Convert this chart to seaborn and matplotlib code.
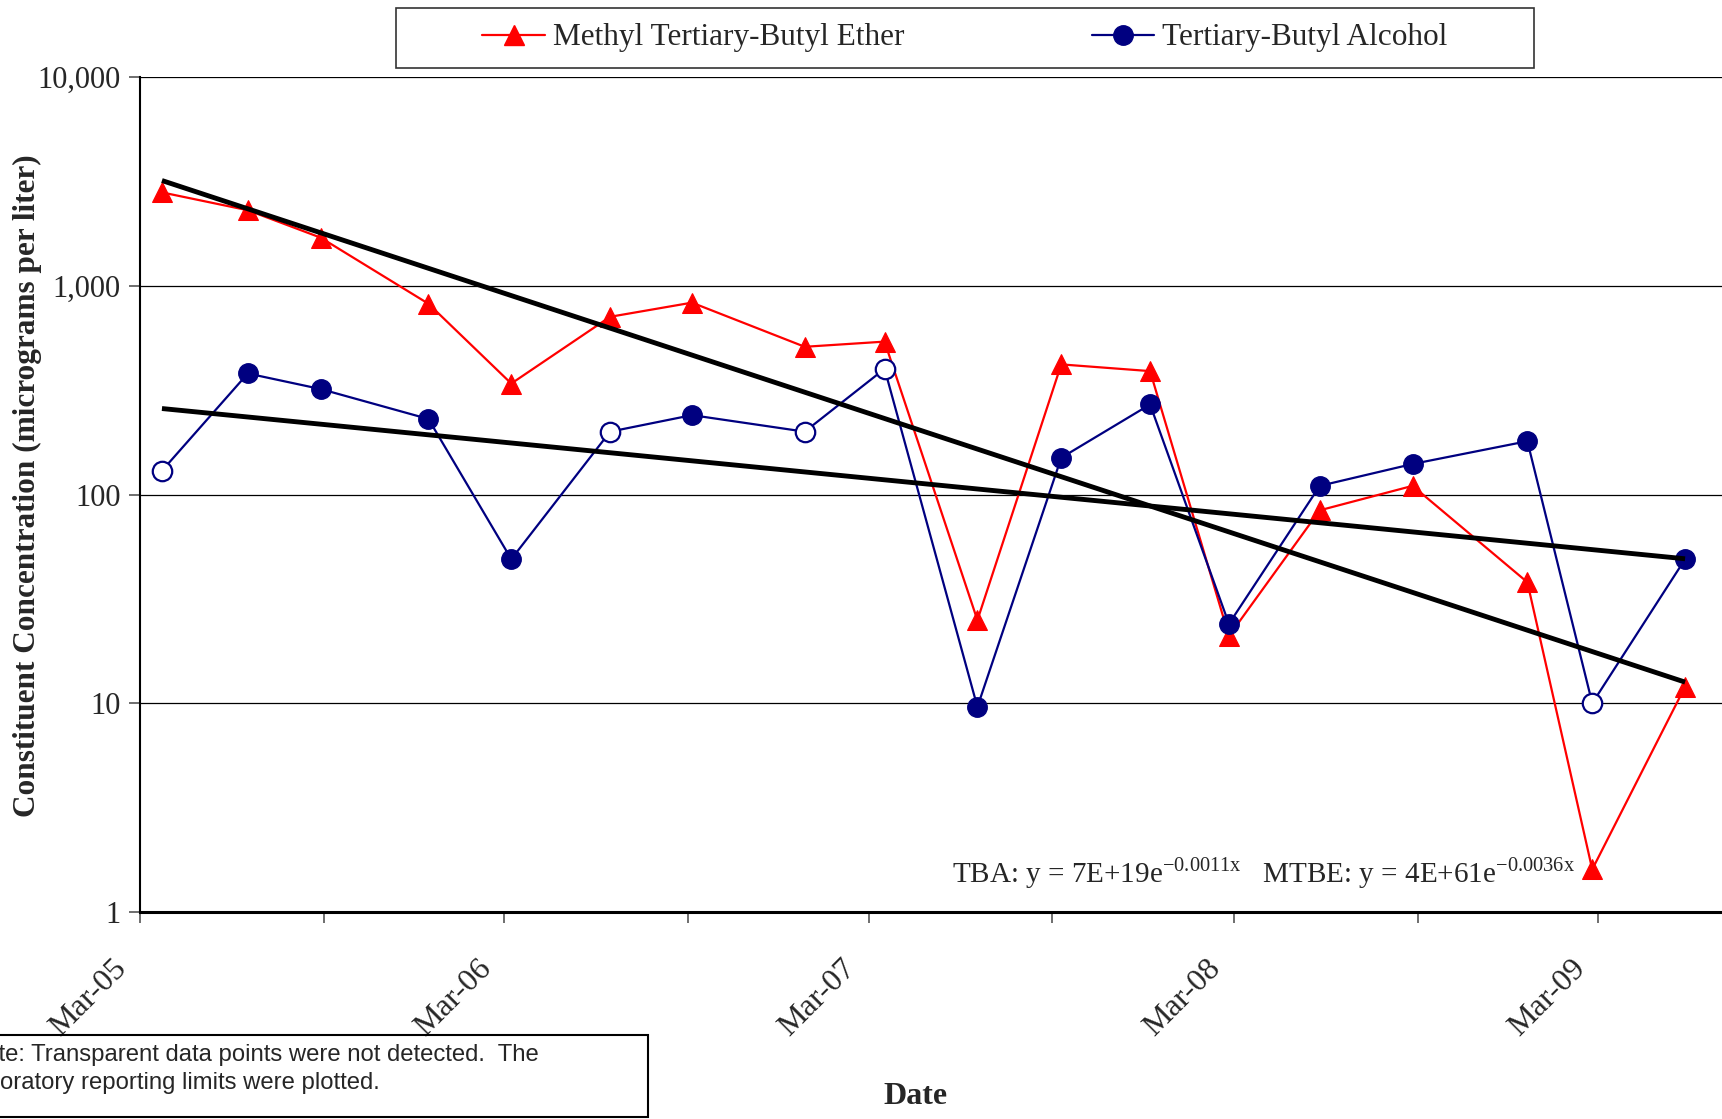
import numpy as np
import pandas as pd
import matplotlib
matplotlib.use("Agg")
import matplotlib.pyplot as plt
import matplotlib.dates as mdates
import matplotlib.transforms as mtransforms
from matplotlib.lines import Line2D
from matplotlib.patches import Rectangle
from matplotlib.ticker import FixedLocator, FuncFormatter, NullLocator
import seaborn as sns

# sample dates and concentrations (ug/L)
dates = pd.to_datetime([
    "2005-03-23", "2005-06-17", "2005-08-29", "2005-12-15", "2006-03-08",
    "2006-06-15", "2006-09-05", "2006-12-27", "2007-03-17", "2007-06-18",
    "2007-09-10", "2007-12-08", "2008-02-25", "2008-05-26", "2008-08-27",
    "2008-12-20", "2009-02-23", "2009-05-27",
])
mtbe = [2800, 2300, 1700, 820, 340, 710, 830, 510, 540, 25,
        420, 390, 21, 84, 110, 38, 1.6, 12]
tba = [130, 380, 320, 230, 49, 200, 240, 200, 400, 9.6,
       150, 270, 24, 110, 140, 180, 10, 49]
# non-detects (plotted at reporting limit, open symbols)
tba_nd = [True, False, False, False, False, True, False, True, True, False,
          False, False, False, False, False, False, True, False]

y_ticks = [1, 10, 100, 1000, 10000]
eq_text = (r"TBA: y = 7E+19e$^{\mathregular{-0.0011x}}$   "
           r"MTBE: y = 4E+61e$^{\mathregular{-0.0036x}}$")
note_lines = ["Note: Transparent data points were not detected.  The",
              "laboratory reporting limits were plotted."]

RED = "#FF0000"
NAVY = "#000080"
W, H = 1722, 1119

sns.set_style("white")
plt.rcParams["font.family"] = ["Liberation Serif", "DejaVu Serif"]
plt.rcParams["mathtext.fontset"] = "custom"
plt.rcParams["mathtext.rm"] = "Liberation Serif"

df = pd.DataFrame({"date": dates, "MTBE": mtbe, "TBA": tba, "nd": tba_nd})

fig = plt.figure(figsize=(W / 100, H / 100), dpi=100)
ax = fig.add_axes([140 / W, 1 - 912 / H, (W - 140) / W, (912 - 77) / H])
ax.set_yscale("log")

# data series
sns.lineplot(data=df, x="date", y="MTBE", ax=ax, color=RED, lw=1.6,
             marker="^", markersize=15, markeredgecolor=RED, markerfacecolor=RED,
             zorder=3)
sns.lineplot(data=df, x="date", y="TBA", ax=ax, color=NAVY, lw=1.6, zorder=4)
det = df[~df["nd"]]
nd = df[df["nd"]]
ax.plot(det["date"], det["TBA"], ls="none", marker="o", ms=14,
        mfc=NAVY, mec=NAVY, zorder=5)
ax.plot(nd["date"], nd["TBA"], ls="none", marker="o", ms=14,
        mfc="white", mec=NAVY, mew=1.6, zorder=5)

# exponential trend lines (log-linear fit)
xnum = mdates.date2num(df["date"])
for col in ["TBA", "MTBE"]:
    b, a = np.polyfit(xnum, np.log(df[col]), 1)
    xe = np.array([xnum[0], xnum[-1]])
    ax.plot(mdates.num2date(xe), np.exp(a + b * xe), color="black", lw=3.5,
            solid_capstyle="butt", zorder=6)

ax.set_xlim(pd.Timestamp("2005-03-01"), pd.Timestamp("2009-07-03"))
ax.set_ylim(1, 10000)

ax.yaxis.set_major_locator(FixedLocator(y_ticks))
ax.yaxis.set_minor_locator(NullLocator())
ax.yaxis.set_major_formatter(FuncFormatter(lambda v, p: f"{v:,.0f}"))
ax.xaxis.set_major_locator(mdates.MonthLocator(bymonth=3))
ax.xaxis.set_minor_locator(mdates.MonthLocator(bymonth=9))
ax.xaxis.set_major_formatter(mdates.DateFormatter("%b-%y"))

ax.tick_params(axis="both", which="both", direction="out", length=8,
               width=1.2, color="#555555", left=True, bottom=True)
ax.tick_params(axis="y", labelsize=22, pad=6)
ax.tick_params(axis="x", labelsize=23, pad=22)
shift = mtransforms.ScaledTranslation(-7 / 100, 0, fig.dpi_scale_trans)
for tl in ax.get_xticklabels():
    tl.set_rotation(45)
    tl.set_ha("right")
    tl.set_transform(tl.get_transform() + shift)

ax.grid(axis="y", which="major", color="black", lw=0.9)
ax.grid(axis="x", visible=False)
for s in ["top", "right"]:
    ax.spines[s].set_visible(False)
ax.spines["left"].set_color("black")
ax.spines["left"].set_linewidth(1.5)
ax.spines["bottom"].set_color("black")
ax.spines["bottom"].set_linewidth(2.2)
ax.spines["bottom"].set_zorder(7)

ax.set_ylabel("Constituent Concentration (micrograms per liter)",
              fontsize=22.5, fontweight="bold")
ax.yaxis.set_label_coords(-0.062, 0.51)
ax.set_xlabel("Date", fontsize=23, fontweight="bold")
ax.xaxis.set_label_coords(0.49, -0.203)

ax.text(952 / W, 1 - 882 / H, eq_text, transform=fig.transFigure,
        fontsize=21, ha="left", va="baseline")

# legend with its own frame
handles = [
    Line2D([], [], color=RED, lw=1.6, marker="^", ms=15, mec=RED),
    Line2D([], [], color=NAVY, lw=1.6, marker="o", ms=14, mec=NAVY),
]
fig.legend(handles, ["Methyl Tertiary-Butyl Ether", "Tertiary-Butyl Alcohol"],
           loc="center", bbox_to_anchor=(965 / W, 1 - 38 / H), ncol=2,
           frameon=False, fontsize=22.5, handlelength=2, handletextpad=0.25,
           columnspacing=6.0)
fig.patches.append(Rectangle((396 / W, 1 - 68 / H), (1534 - 396) / W, 60 / H,
                             transform=fig.transFigure, fill=False,
                             ec="#333333", lw=1.2))

# note box, cut off at the left edge as in the original
fig.patches.append(Rectangle((-5 / W, 1 - 1117 / H), 653 / W, 82 / H,
                             transform=fig.transFigure, fill=False,
                             ec="black", lw=1.5))
for i, line in enumerate(note_lines):
    fig.text(-32 / W, 1 - (1061 + 28 * i) / H, line, fontsize=17.2,
             family=["Liberation Sans", "DejaVu Sans"], ha="left",
             va="baseline")

fig.savefig("out.png", dpi=100)
